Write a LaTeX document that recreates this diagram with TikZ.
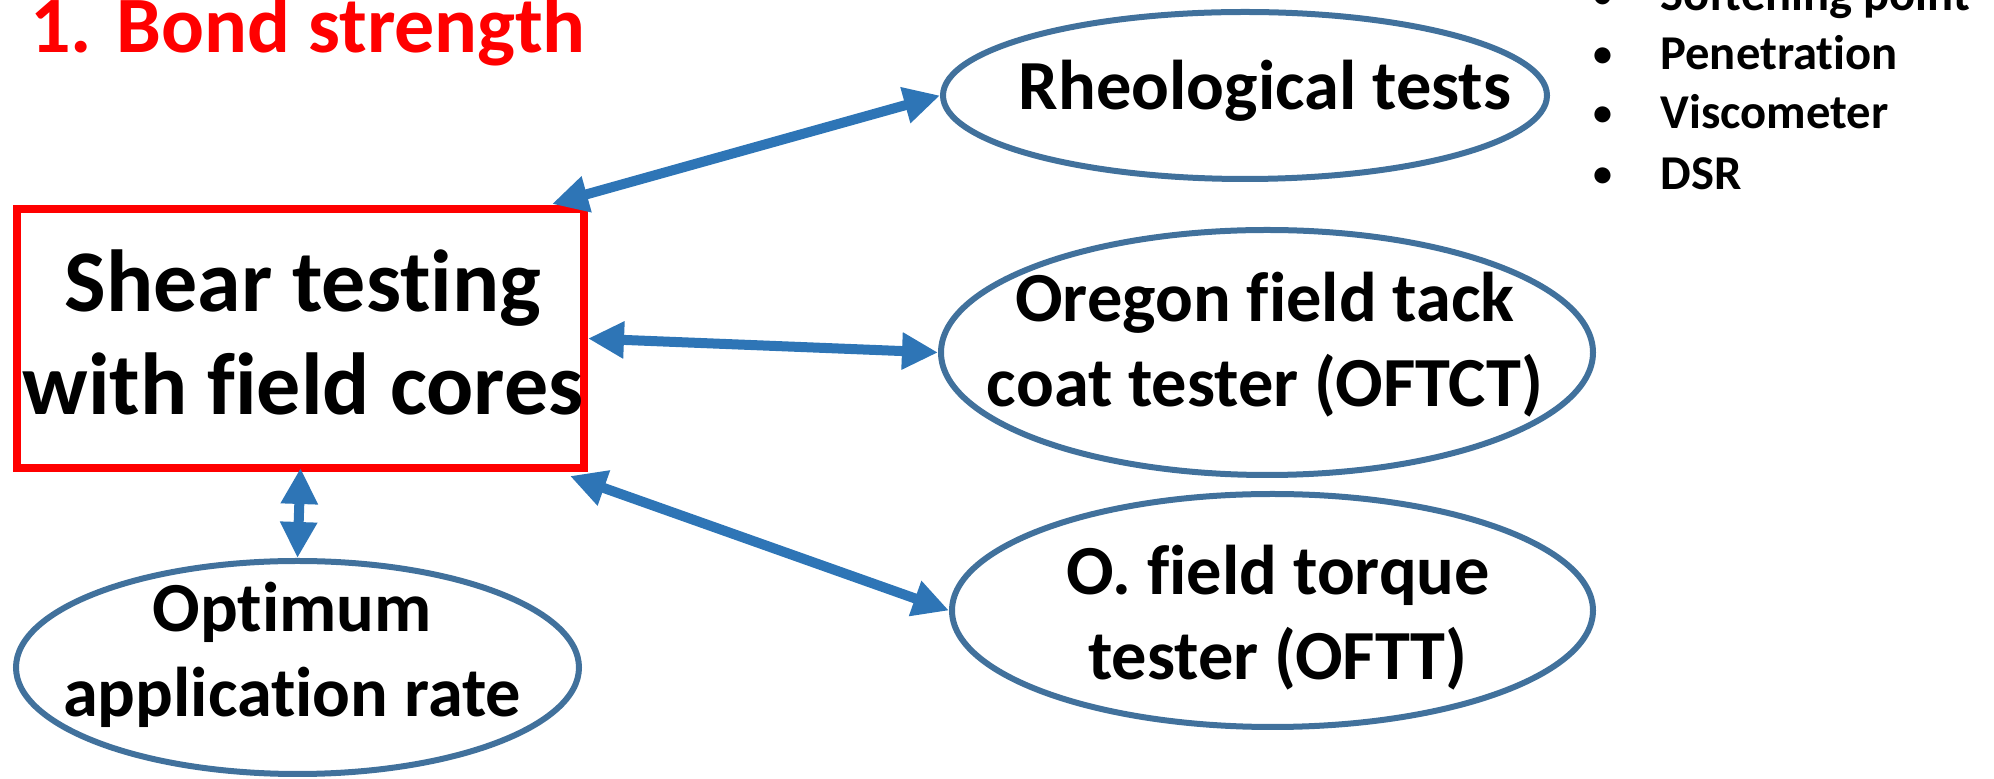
\documentclass[tikz,border=0pt]{standalone}
\usepackage{fontspec}
\setmainfont{Carlito}[Ligatures=NoCommon]
\usetikzlibrary{shapes.geometric,arrows.meta}
\definecolor{ovalblue}{HTML}{41719C}
\definecolor{arrowblue}{HTML}{2E75B6}
\definecolor{titlered}{HTML}{FF0000}
\tikzset{
  oval/.style={ellipse, draw=ovalblue, line width=3pt, inner sep=0pt},
  etext/.style={font=\fontsize{35.2}{42}\selectfont\bfseries, anchor=base, inner sep=0pt},
  btext/.style={font=\fontsize{44}{52}\selectfont\bfseries, anchor=base, inner sep=0pt},
  ltext/.style={font=\fontsize{24.3}{29}\selectfont\bfseries, anchor=base west, inner sep=0pt},
  dblarrow/.style={draw=arrowblue, line width=5pt,
    {Triangle[length=18pt,width=17.5pt]}-{Triangle[length=18pt,width=17.5pt]}},
}
\begin{document}
\begin{tikzpicture}[x=0.5pt,y=-0.5pt]
\useasboundingbox (0,0) rectangle (1994,779);
% title
\node[font=\fontsize{40}{46}\selectfont\bfseries, text=titlered, anchor=base west, inner sep=0pt] (title) at (30,53) {1. Bond strength};
% main box
\node[draw=titlered, line width=4pt, minimum width=283.5pt, minimum height=129.5pt, inner sep=0pt] (box) at (300.5,338.5) {};
\node[btext] (boxA) at (303,312) {Shear testing};
\node[btext] (boxB) at (303,415) {with field cores};
% ellipses
\node[oval, minimum width=302pt, minimum height=83.5pt] (rheo) at (1245,95.5) {};
\node[etext] (rheoA) at (1265,110) {Rheological tests};
\node[oval, minimum width=326pt, minimum height=122.5pt] (oregon) at (1267,352.5) {};
\node[etext] (oregonA) at (1265,322) {Oregon field tack};
\node[etext] (oregonB) at (1265,407) {coat tester (OFTCT)};
\node[oval, minimum width=320.5pt, minimum height=116.5pt] (oftt) at (1272.5,610.5) {};
\node[etext] (ofttA) at (1278,595) {O. field torque};
\node[etext] (ofttB) at (1278,680) {tester (OFTT)};
\node[oval, minimum width=281.5pt, minimum height=106.5pt] (opt) at (297.5,667.5) {};
\node[etext] (optA) at (292,632) {Optimum};
\node[etext] (optB) at (292,717) {application rate};
% bullet list
\foreach \t/\yy [count=\i] in {Softening point/11, Penetration/70, Viscometer/129, DSR/190}{
  \node[ltext] (item\i) at (1660,\yy) {\t};
  \node[font=\fontsize{19}{29}\selectfont\bfseries, anchor=base, inner sep=0pt] (bul\i) at (1603,\yy-3) {•};
}
% connectors
\draw[dblarrow] ([xshift=-18pt,yshift=0.5pt]box.north east) -- (rheo.west);
\draw[dblarrow] (box.east) -- (oregon.west);
\draw[dblarrow] ([xshift=-9pt,yshift=-2pt]box.south east) -- (oftt.west);
\draw[dblarrow] ([yshift=2pt]box.south) -- (opt.north);
\end{tikzpicture}
\end{document}
